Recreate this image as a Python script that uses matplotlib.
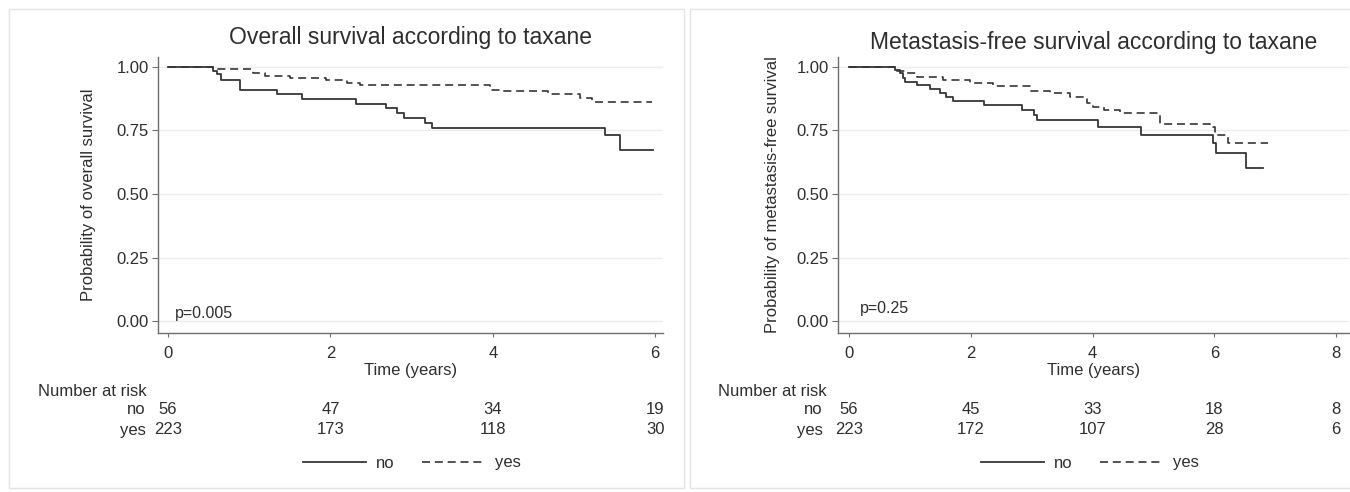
import matplotlib
matplotlib.use('Agg')
import matplotlib.pyplot as plt
from matplotlib.patches import Rectangle
from matplotlib.transforms import blended_transform_factory

plt.rcParams['font.family'] = ['Liberation Sans', 'DejaVu Sans']

# ---- data ----
# overall survival, taxane = no / yes
os_no_t = [0, 0.56, 0.60, 0.65, 0.89, 1.34, 1.65, 2.31, 2.69, 2.82, 2.91, 3.16, 3.25, 5.38, 5.57, 5.97]
os_no_s = [1.0, 0.982, 0.971, 0.949, 0.909, 0.894, 0.874, 0.854, 0.837, 0.820, 0.800, 0.778, 0.761, 0.732, 0.673, 0.673]
os_yes_t = [0, 0.56, 1.05, 1.19, 1.50, 1.95, 2.20, 2.36, 3.97, 4.09, 4.68, 5.07, 5.22, 5.96]
os_yes_s = [1.0, 0.993, 0.976, 0.966, 0.957, 0.948, 0.937, 0.927, 0.911, 0.904, 0.894, 0.878, 0.862, 0.862]

# metastasis-free survival, taxane = no / yes
mfs_no_t = [0, 0.755, 0.84, 0.89, 0.92, 1.12, 1.33, 1.49, 1.60, 1.71, 2.22, 2.84, 3.03, 3.09, 4.09, 4.79, 5.97, 6.02, 6.52, 6.80]
mfs_no_s = [1.0, 0.988, 0.975, 0.955, 0.942, 0.929, 0.912, 0.896, 0.883, 0.867, 0.850, 0.831, 0.811, 0.791, 0.765, 0.732, 0.700, 0.660, 0.601, 0.601]
mfs_yes_t = [0, 0.755, 0.95, 1.11, 1.55, 1.99, 2.37, 2.97, 3.30, 3.63, 3.90, 4.01, 4.18, 4.45, 5.11, 5.93, 6.01, 6.23, 6.88]
mfs_yes_s = [1.0, 0.984, 0.975, 0.962, 0.949, 0.936, 0.923, 0.907, 0.896, 0.880, 0.857, 0.841, 0.829, 0.818, 0.777, 0.762, 0.732, 0.702, 0.702]

# number at risk tables
os_risk_t = [0, 2, 4, 6]
os_risk_no = [56, 47, 34, 19]
os_risk_yes = [223, 173, 118, 30]
mfs_risk_t = [0, 2, 4, 6, 8]
mfs_risk_no = [56, 45, 33, 18, 8]
mfs_risk_yes = [223, 172, 107, 28, 6]

y_ticks = [0.0, 0.25, 0.50, 0.75, 1.00]
group_labels = ['no', 'yes']

W, H = 1350, 492
TXT = '#2e2e2e'
LINE = '#363636'
AXC = '#6e6e6e'

fig = plt.figure(figsize=(W / 100, H / 100), dpi=100)
fig.patch.set_facecolor('white')


def box(x0, y0, x1, y1):
    # pixel box (top-left origin) -> figure fraction
    return [x0 / W, 1 - y1 / H, (x1 - x0) / W, (y1 - y0) / H]


def panel(ax_px, frame_px, xlim, xticks, title, title_y, ylabel, ylab_x,
          curves, ptext, ppos, risk_t, risk_no, risk_yes, lab_x, nar_x, leg_cx):
    ax = fig.add_axes(box(*ax_px))
    l_no, = ax.step(curves[0], curves[1], where='post', color=LINE, lw=1.3)
    l_yes, = ax.step(curves[2], curves[3], where='post', color=LINE, lw=1.2,
                     linestyle=(0, (4.8, 2.9)))
    ax.set_xlim(*xlim)
    ax.set_ylim(-0.047, 1.039)
    ax.set_xticks(xticks)
    ax.set_yticks(y_ticks)
    ax.set_yticklabels(['%.2f' % v for v in y_ticks])
    for s in ['top', 'right']:
        ax.spines[s].set_visible(False)
    for s in ['left', 'bottom']:
        ax.spines[s].set_color(AXC)
        ax.spines[s].set_linewidth(1.0)
    ax.tick_params(axis='both', colors=AXC, labelcolor=TXT, labelsize=12, width=0.8)
    ax.tick_params(axis='x', length=3, pad=6)
    ax.tick_params(axis='y', length=4, pad=2.5)
    ax.yaxis.grid(True, color='#ececec', lw=1.0)
    ax.set_axisbelow(True)
    ax.set_xlabel('Time (years)', fontsize=12, color=TXT, labelpad=2)
    ax.set_ylabel(ylabel, fontsize=12, color=TXT)
    ax.yaxis.set_label_coords(ylab_x, 0.5)
    ax.text(0.5, title_y, title, transform=ax.transAxes, ha='center', va='center',
            fontsize=16.5, color=TXT)
    ax.text(ppos[0], ppos[1], ptext, fontsize=11.5, color=TXT, ha='left', va='center')

    # number at risk
    tr = blended_transform_factory(ax.transData, fig.transFigure)
    fig.text(nar_x / W, 1 - 391 / H, 'Number at risk', fontsize=12, color=TXT,
             ha='left', va='center')
    for row_y, lab, vals in [(410, group_labels[0], risk_no), (430, group_labels[1], risk_yes)]:
        fig.text(lab_x / W, 1 - row_y / H, lab, fontsize=12, color=TXT, ha='right', va='center')
        for t, v in zip(risk_t, vals):
            ax.text(t, 1 - row_y / H, str(v), transform=tr, fontsize=12, color=TXT,
                    ha='center', va='center', clip_on=False)

    fig.legend([l_no, l_yes], group_labels, loc='center', bbox_to_anchor=(leg_cx / W, 1 - 463 / H),
               ncol=2, frameon=False, fontsize=12, handlelength=3.8, handletextpad=0.6,
               columnspacing=1.6, labelcolor=TXT)

    fx0, fy0, fx1, fy1 = frame_px
    fig.add_artist(Rectangle((fx0 / W, 1 - fy1 / H), (fx1 - fx0) / W, (fy1 - fy0) / H,
                             transform=fig.transFigure, fill=False, ec='#e4e4e4', lw=1.0))
    return ax


panel((158, 57, 663, 333), (9, 9, 684, 488), (-0.123, 6.096), [0, 2, 4, 6],
      'Overall survival according to taxane', 1.072,
      'Probability of overall survival', -0.122,
      (os_no_t, os_no_s, os_yes_t, os_yes_s), 'p=0.005', (0.09, 0.031),
      os_risk_t, os_risk_no, os_risk_yes, 146, 38, 412)

panel((838, 57, 1349, 333), (690, 9, 1352, 488), (-0.181, 8.21), [0, 2, 4, 6, 8],
      'Metastasis-free survival according to taxane', 1.052,
      'Probability of metastasis-free survival', -0.113,
      (mfs_no_t, mfs_no_s, mfs_yes_t, mfs_yes_s), 'p=0.25', (0.18, 0.051),
      mfs_risk_t, mfs_risk_no, mfs_risk_yes, 823, 718, 1090)

fig.savefig('out.png', dpi=100)
